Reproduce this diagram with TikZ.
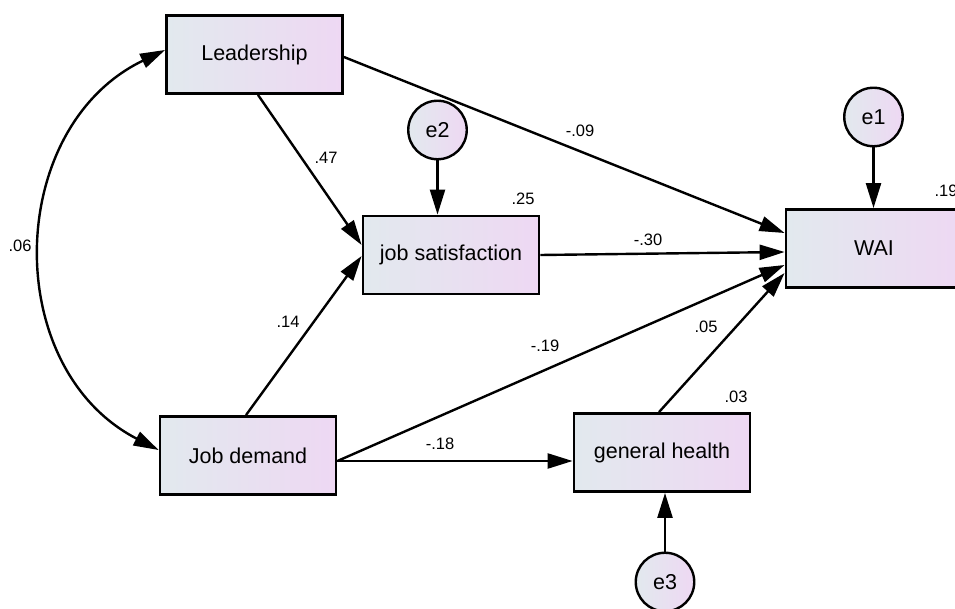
\documentclass[tikz,border=0pt]{standalone}
\usepackage{fontspec}
\setmainfont{Liberation Sans}
\usetikzlibrary{arrows.meta}
\definecolor{gl}{RGB}{226,233,238}
\definecolor{gr}{RGB}{238,216,243}
\begin{document}
\begin{tikzpicture}[x=1pt,y=-1pt,
  box/.style={draw, line width=2.8pt, left color=gl, right color=gr,
    minimum width=176pt, minimum height=78pt, inner sep=0pt,
    font=\fontsize{21.5}{26}\selectfont},
  err/.style={draw, circle, line width=2.4pt, left color=gl, right color=gr,
    minimum size=58.5pt, inner sep=0pt, font=\fontsize{21.5}{26}\selectfont},
  arr/.style={line width=2.4pt, -{Triangle[length=25pt,width=15pt]}},
  lbl/.style={font=\fontsize{16.5}{20}\selectfont, inner sep=0pt}]
\useasboundingbox (0,0) rectangle (955,609);
\clip (0,0) rectangle (955,609);
\node[box] (lead) at (254.5,54.5) {Leadership};
\node[box] (js) at (451,255) {job satisfaction};
\node[box] (jd) at (248,455.5) {Job demand};
\node[box] (gh) at (662,452.5) {general health};
\node[box] (wai) at (874,248.5) {WAI};
\node[err] (e1) at (873.5,117) {e1};
\node[err] (e2) at (437.5,130) {e2};
\node[err] (e3) at (665,582) {e3};
\draw[line width=2.4pt, {Triangle[length=25pt,width=15pt]}-{Triangle[length=25pt,width=15pt]}]
  ([yshift=4.5pt]lead.west) .. controls (5,127) and (0,368) .. ([yshift=5.5pt]jd.west);
\draw[arr] ([xshift=3.5pt]lead.south) -- ([yshift=10pt]js.west);
\draw[arr] ([xshift=-2pt]jd.north) -- ([yshift=-1pt]js.west);
\draw[arr] ([yshift=-2.5pt]lead.east) -- ([yshift=15.5pt]wai.west);
\draw[arr] (js.east) -- ([yshift=-3.5pt]wai.west);
\draw[arr] ([yshift=-5.5pt]jd.east) -- ([yshift=-16.5pt]wai.west);
\draw[arr] ([yshift=-5.5pt]jd.east) -- ([yshift=-8.5pt]gh.west);
\draw[arr] ([xshift=-3pt]gh.north) -- ([yshift=-24.5pt]wai.west);
\draw[arr] (e1.south) -- (e1.south |- wai.north);
\draw[arr] (e2.south) -- (e2.south |- js.north);
\draw[arr] (e3.north) -- (e3.north |- gh.south);
\node[lbl] (l47) at (326,158) {.47};
\node[lbl] (l14) at (288,322) {.14};
\node[lbl] (l09) at (580,131) {-.09};
\node[lbl] (l30) at (648,240) {-.30};
\node[lbl] (l19) at (545,346) {-.19};
\node[lbl] (l05) at (706,327) {.05};
\node[lbl] (l18) at (440,444) {-.18};
\node[lbl] (l06) at (20,246) {.06};
\node[lbl] (r25) at (523,199) {.25};
\node[lbl] (r03) at (736,397) {.03};
\node[lbl] (r19) at (946,191) {.19};
\end{tikzpicture}
\end{document}
